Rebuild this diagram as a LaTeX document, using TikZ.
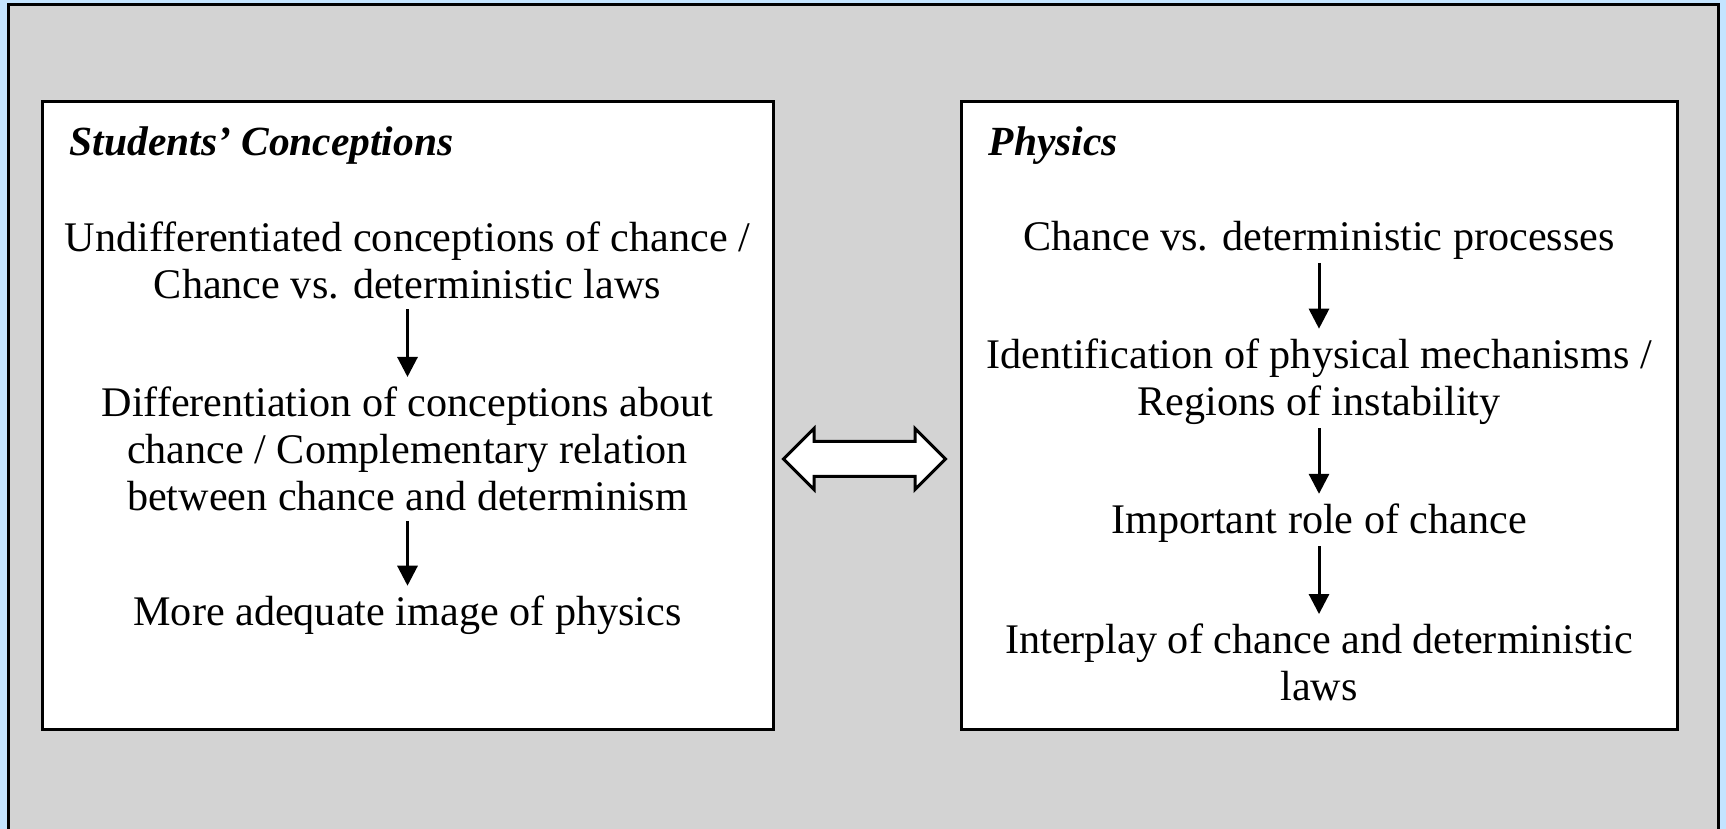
\documentclass[tikz,border=0pt]{standalone}
\usepackage{fontspec}
\setmainfont{Liberation Serif}
\usepackage{tikz}
\usetikzlibrary{positioning, arrows.meta, shapes.arrows}
\definecolor{FrameBlue}{HTML}{C4E4FF}
\definecolor{PanelGray}{HTML}{D3D3D3}

\begin{document}
\begin{tikzpicture}[
            panel/.style={draw=black, line width=0.3mm, fill=white, minimum height=6.28cm},
            txt/.style={align=center, font=\fontsize{12}{13.4}\selectfont, inner xsep=1pt, inner ysep=2.6pt},
            heading/.style={anchor=west, font=\fontsize{11.8}{13.4}\selectfont\bfseries\itshape, inner sep=0pt},
            arrow/.style={-{Triangle[width=2mm, length=2mm]}, line width=0.3mm},
            link/.style={double arrow, draw=black, line width=0.3mm, fill=white, inner sep=0.16cm, minimum height=1.62cm, double arrow head extend=0.13cm, double arrow tip angle=90}
        ]
            \useasboundingbox (0, 0) rectangle (17.26, 8.29);
            \fill[FrameBlue] (0, 0) rectangle (17.26, 8.29);
            \draw[fill=PanelGray, line width=0.3mm] (0.09, -0.2) rectangle (17.18, 8.24);

            % Two panels
            \node[panel, minimum width=7.31cm] at (4.075, 4.13) (students) {};
            \node[panel, minimum width=7.16cm] at (13.19, 4.13) (physics) {};

            \node[heading] at (0.69, 6.83) (studhead) {Students’ Conceptions};
            \node[heading] at (9.88, 6.83) (physhead) {Physics};

            % Left column
            \node[txt] at (4.075, 5.685) (undiff) {Undifferentiated conceptions of chance /\\ Chance vs. deterministic laws};
            \node[txt] at (4.075, 3.80) (differ) {Differentiation of conceptions about\\ chance / Complementary relation\\ between chance and determinism};
            \node[txt] at (4.075, 2.14) (image) {More adequate image of physics};

            \draw[arrow] (undiff) -- (differ);
            \draw[arrow] (differ) -- (image);

            % Right column
            \node[txt] at (13.19, 5.89) (procs) {Chance vs. deterministic processes};
            \node[txt] at (13.19, 4.475) (mech) {Identification of physical mechanisms /\\ Regions of instability};
            \node[txt] at (13.19, 3.06) (role) {Important role of chance};
            \node[txt] at (13.19, 1.665) (inter) {Interplay of chance and deterministic\\ laws};

            \draw[arrow, shorten <=-0.6mm] (procs) -- (mech);
            \draw[arrow, shorten <=-0.6mm] (mech) -- (role);
            \draw[arrow, shorten <=-0.6mm] (role) -- (inter);

            % Link between panels
            \node[link] at (8.645, 3.70) (link) {};
        \end{tikzpicture}
\end{document}
